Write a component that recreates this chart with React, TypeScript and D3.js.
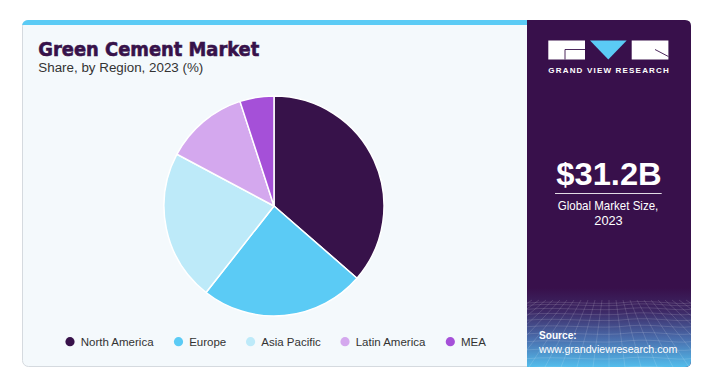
import React from 'react';
import * as d3 from 'd3';

const categories = ['North America', 'Europe', 'Asia Pacific', 'Latin America', 'MEA'];
const shares = [36.4, 24.2, 22.2, 12.2, 5.0];
const colors = ['#37124A', '#5BCBF5', '#BDEAF9', '#D4A8EE', '#A550D8'];

const titleText = 'Green Cement Market';
const subtitleText = 'Share, by Region, 2023 (%)';
const marketValue = '$31.2B';
const marketLabel1 = 'Global Market Size,';
const marketLabel2 = '2023';
const sourceLabel = 'Source:';
const sourceUrl = 'www.grandviewresearch.com';

const W = 724;
const H = 370;
const FONT = '"Liberation Sans", Arial, sans-serif';

function measure(text: string, font: string): number {
  const c = document.createElement('canvas').getContext('2d');
  if (!c) return text.length * 6;
  c.font = font;
  return c.measureText(text).width;
}

export default function App() {
  const cx = 274;
  const cy = 206;
  const r = 110;
  const pie = d3.pie<number>().sort(null).value((d) => d);
  const arcs = pie(shares);
  const arc = d3.arc<d3.PieArcDatum<number>>().innerRadius(0).outerRadius(r);

  // legend layout
  const legendFont = `11.5px ${FONT}`;
  let lx = 70;
  const legendItems = categories.map((c, i) => {
    const w = measure(c, legendFont);
    const item = { c, x: lx, color: colors[i] };
    lx = lx + 10.5 + w + 24.5;
    return item;
  });

  // panel grid decoration
  const panelX0 = 527;
  const panelX1 = 691;
  const gridTop = 300;
  const gridBottom = 367;
  const hLines: string[] = [];
  for (let k = 0; k < 11; k++) {
    const y = gridTop + 3 + Math.pow(k, 1.45) * 2.3;
    const p = d3.path();
    p.moveTo(panelX0, y);
    p.bezierCurveTo(560, y - 3, 600, y + 3, 630, y - 1);
    p.bezierCurveTo(655, y - 3, 675, y + 2, panelX1, y);
    hLines.push(p.toString());
  }
  const vLines: [number, number, number, number][] = [];
  for (let j = -14; j <= 14; j++) {
    vLines.push([609 + j * 7, gridTop, 609 + j * 16, gridBottom]);
  }

  return (
    <svg
      width={W}
      height={H}
      style={{ position: 'absolute', left: 0, top: 0, display: 'block' }}
      xmlns="http://www.w3.org/2000/svg"
    >
      <defs>
        <linearGradient id="bottomGrad" x1="0" x2="0" y1={gridTop - 12} y2={gridBottom} gradientUnits="userSpaceOnUse">
          <stop offset="0" stopColor="#38104B" />
          <stop offset="0.3" stopColor="#3D2966" />
          <stop offset="0.65" stopColor="#4A6FAE" />
          <stop offset="1" stopColor="#53BDEC" />
        </linearGradient>
        <clipPath id="panelClip">
          <path d={`M${panelX0},20 H${panelX1 - 6} Q${panelX1},20 ${panelX1},26 V${gridBottom - 6} Q${panelX1},${gridBottom} ${panelX1 - 6},${gridBottom} H${panelX0} Z`} />
        </clipPath>
        <clipPath id="cardClip">
          <rect x={22} y={20} width={669} height={347} rx={6} />
        </clipPath>
      </defs>

      <rect x={0} y={0} width={W} height={H} fill="#ffffff" />

      {/* card */}
      <rect x={22.5} y={20.5} width={668} height={346} rx={6} fill="#F4F9FC" stroke="#D5DADF" strokeWidth={1} />
      <g clipPath="url(#cardClip)">
        <rect x={22} y={20} width={panelX0 - 22} height={5} fill="#5BCBF5" />
      </g>

      {/* right panel */}
      <g clipPath="url(#panelClip)">
        <rect x={panelX0} y={20} width={panelX1 - panelX0} height={gridBottom - 20} fill="#38104B" />
        <rect x={panelX0} y={gridTop - 12} width={panelX1 - panelX0} height={gridBottom - gridTop + 12} fill="url(#bottomGrad)" />
        <g stroke="#ffffff" strokeOpacity={0.2} strokeWidth={0.7} fill="none">
          {hLines.map((d, i) => (
            <path key={'h' + i} d={d} />
          ))}
          {vLines.map((l, i) => (
            <line key={'v' + i} x1={l[0]} y1={l[1]} x2={l[2]} y2={l[3]} />
          ))}
        </g>
      </g>

      {/* logo */}
      <g>
        <rect x={548.3} y={40.5} width={36.7} height={19} fill="#ffffff" />
        <path d="M565,49.5 H585 M565,49.5 V59.5" stroke="#38104B" strokeWidth={0.9} fill="none" />
        <path d="M590,40.5 L626.7,40.5 L608.3,59.5 Z" fill="#5BCBF5" />
        <rect x={631.7} y={40.5} width={36.7} height={19} fill="#ffffff" />
        <path d="M655,49.5 L668.4,56.5" stroke="#38104B" strokeWidth={0.9} fill="none" />
        <text x={548.3} y={73.2} fill="#ffffff" fontFamily={FONT} fontWeight={700}
          fontSize={8} textLength={120.5} lengthAdjust="spacing">GRAND VIEW RESEARCH</text>
      </g>

      {/* market size */}
      <text x={609} y={185} textAnchor="middle" fill="#ffffff" fontFamily={FONT} fontWeight={700}
        fontSize={30.5} textLength={105.5} lengthAdjust="spacingAndGlyphs">{marketValue}</text>
      <line x1={555} x2={661.7} y1={193.5} y2={193.5} stroke="#ffffff" strokeOpacity={0.85} strokeWidth={1} />
      <text x={608} y={209.5} textAnchor="middle" fill="#ffffff" fontFamily={FONT} fontSize={12.8}
        textLength={100.6} lengthAdjust="spacingAndGlyphs">{marketLabel1}</text>
      <text x={608.5} y={224.5} textAnchor="middle" fill="#ffffff" fontFamily={FONT} fontSize={12.8}>{marketLabel2}</text>

      {/* source */}
      <text x={539} y={339.3} fill="#ffffff" fontFamily={FONT} fontWeight={700} fontSize={11}
        textLength={37.7} lengthAdjust="spacingAndGlyphs">{sourceLabel}</text>
      <text x={539} y={352.8} fill="#ffffff" fontFamily={FONT} fontSize={11}
        textLength={138.3} lengthAdjust="spacingAndGlyphs">{sourceUrl}</text>

      {/* title */}
      <text x={38.3} y={55.5} fill="#37124A" stroke="#37124A" strokeWidth={0.6} fontFamily='"DejaVu Sans", sans-serif' fontWeight={700}
        fontSize={19} textLength={221} lengthAdjust="spacingAndGlyphs">{titleText}</text>
      <text x={38.3} y={72.3} fill="#333333" fontFamily={FONT} fontSize={12.5}
        textLength={165} lengthAdjust="spacingAndGlyphs">{subtitleText}</text>

      {/* pie */}
      <g transform={`translate(${cx},${cy})`}>
        {arcs.map((a, i) => (
          <path key={categories[i]} d={arc(a) || ''} fill={colors[i]} stroke="#ffffff" strokeWidth={1.5} strokeLinejoin="round" />
        ))}
      </g>

      {/* legend */}
      <g>
        {legendItems.map((it) => (
          <g key={it.c}>
            <circle cx={it.x} cy={341.7} r={4.6} fill={it.color} />
            <text x={it.x + 10.7} y={345.8} fill="#333333" fontFamily={FONT} fontSize={11.5}>{it.c}</text>
          </g>
        ))}
      </g>
    </svg>
  );
}
